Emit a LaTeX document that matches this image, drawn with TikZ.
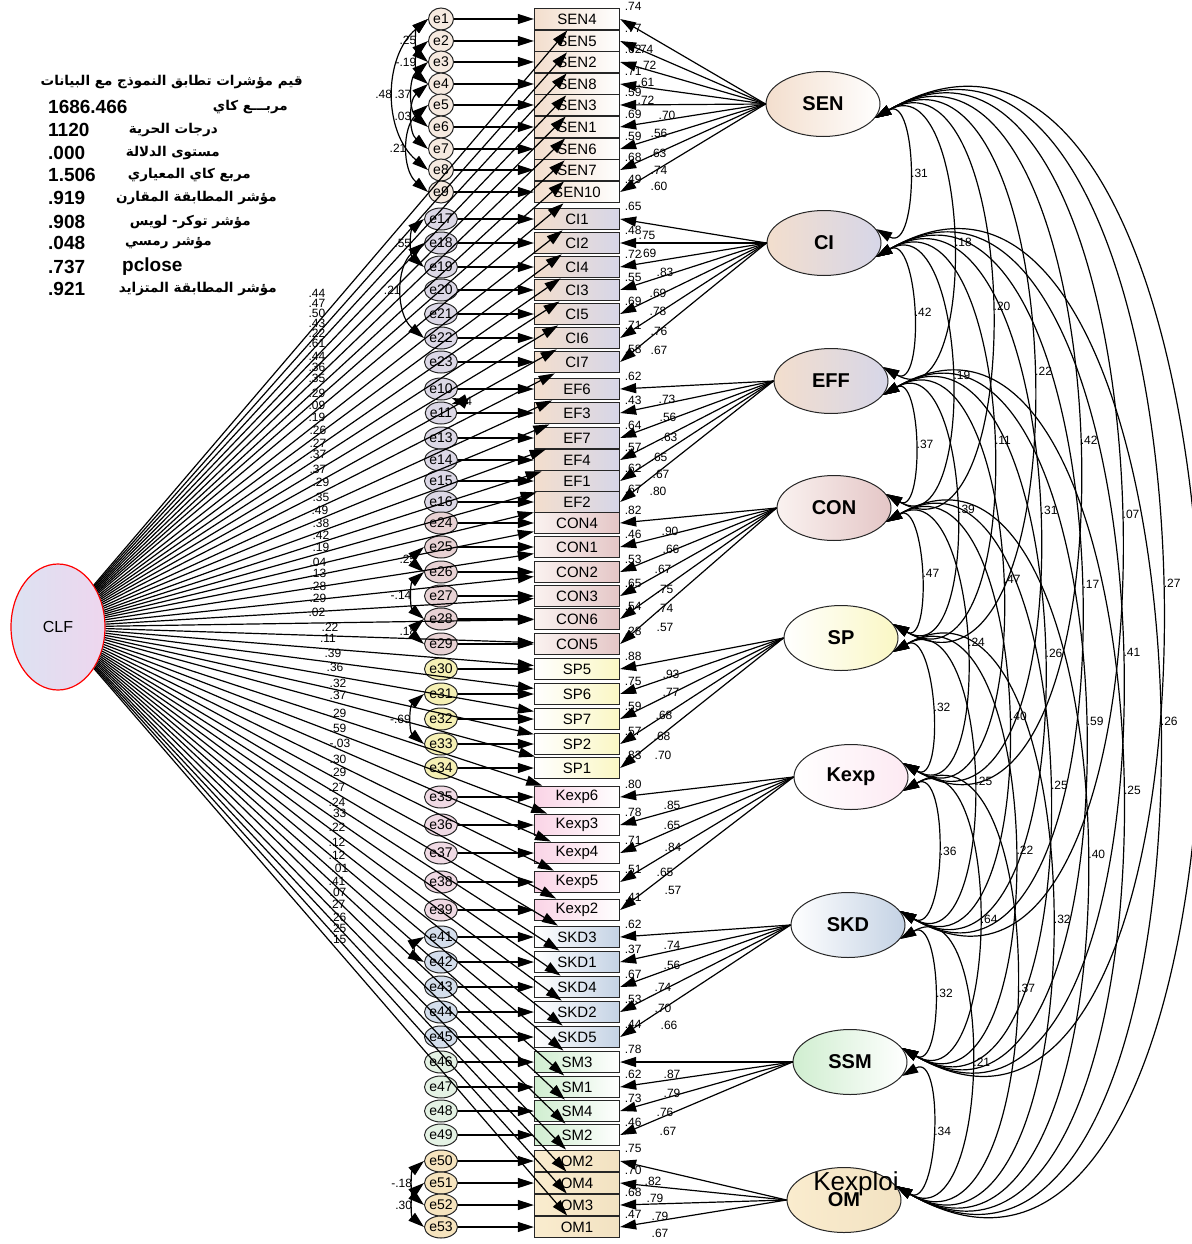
\documentclass[tikz,border=0pt]{standalone}
\usepackage{fontspec}
\setmainfont{Liberation Sans}
\newfontfamily\arabicfont[Script=Arabic]{DejaVu Sans}
\TeXXeTstate=1
\usetikzlibrary{arrows.meta,shapes.geometric,positioning,calc}

\definecolor{senpeach}{RGB}{243,222,205}
\definecolor{cilav}{RGB}{214,214,232}
\definecolor{conwhite}{RGB}{250,242,240}
\definecolor{conpink}{RGB}{228,198,198}
\definecolor{spyel}{RGB}{250,247,196}
\definecolor{kexpink}{RGB}{250,212,230}
\definecolor{skdblue}{RGB}{196,210,228}
\definecolor{smgreen}{RGB}{208,238,208}
\definecolor{omtanA}{RGB}{250,236,206}
\definecolor{omtanB}{RGB}{242,226,194}
\definecolor{clfA}{RGB}{220,226,242}
\definecolor{clfB}{RGB}{238,214,238}
\definecolor{esen}{RGB}{246,234,224}
\definecolor{eci}{RGB}{220,216,230}
\definecolor{econ}{RGB}{232,210,212}
\definecolor{esp}{RGB}{245,240,180}
\definecolor{ekex}{RGB}{240,218,228}
\definecolor{eskd}{RGB}{212,222,236}
\definecolor{esm}{RGB}{228,242,228}
\definecolor{eom}{RGB}{246,228,190}

% observed item / error / group / latent / R^2
\newcommand\obslist{SEN4/e1/19/sen/SEN/.74, SEN5/e2/41/sen/SEN/.77, SEN2/e3/62/sen/SEN/.62,
 SEN8/e4/84/sen/SEN/.71, SEN3/e5/105/sen/SEN/.59, SEN1/e6/127/sen/SEN/.69,
 SEN6/e7/149/sen/SEN/.59, SEN7/e8/170/sen/SEN/.68, SEN10/e9/192/sen/SEN/.49,
 CI1/e17/219/ci/CI/.65, CI2/e18/243/ci/CI/.48, CI4/e19/267/ci/CI/.72, CI3/e20/290/ci/CI/.55,
 CI5/e21/314/ci/CI/.69, CI6/e22/338/ci/CI/.71, CI7/e23/362/ci/CI/.58,
 EF6/e10/389/ci/EFF/.62, EF3/e11/413/ci/EFF/.43, EF7/e13/438/ci/EFF/.64, EF4/e14/460/ci/EFF/.57,
 EF1/e15/481/ci/EFF/.62, EF2/e16/502/ci/EFF/.67,
 CON4/e24/523/con/CON/.82, CON1/e25/547/con/CON/.46, CON2/e26/572/con/CON/.53,
 CON3/e27/596/con/CON/.65, CON6/e28/619/con/CON/.54, CON5/e29/644/con/CON/.28,
 SP5/e30/669/sp/SP/.88, SP6/e31/694/sp/SP/.75, SP7/e32/719/sp/SP/.59, SP2/e33/744/sp/SP/.57, SP1/e34/768/sp/SP/.83,
 Kexp6/e35/797/kex/Kexp/.80, Kexp3/e36/825/kex/Kexp/.78, Kexp4/e37/853/kex/Kexp/.71,
 Kexp5/e38/882/kex/Kexp/.51, Kexp2/e39/910/kex/Kexp/.41,
 SKD3/e41/937/skd/SKD/.62, SKD1/e42/962/skd/SKD/.37, SKD4/e43/987/skd/SKD/.67,
 SKD2/e44/1012/skd/SKD/.53, SKD5/e45/1037/skd/SKD/.44,
 SM3/e46/1062/sm/SSM/.78, SM1/e47/1087/sm/SSM/.62, SM4/e48/1111/sm/SSM/.73, SM2/e49/1135/sm/SSM/.46,
 OM2/e50/1161/om/OM/.75, OM4/e51/1183/om/OM/.70, OM3/e52/1205/om/OM/.68, OM1/e53/1227/om/OM/.47}

\begin{document}
\begin{tikzpicture}[x=1pt,y=-1pt,
  >={Triangle[length=16pt,width=10pt]},
  reg/.style={->, line width=1.2pt},
  cov/.style={<->, line width=1.2pt},
  obs/.style={draw=black!85, line width=1.3pt, minimum width=85pt, minimum height=21.5pt,
    inner sep=0pt, font=\fontsize{15}{15}\selectfont},
  box-sen/.style={left color=senpeach, right color=white},
  box-ci/.style={left color=senpeach, right color=cilav},
  box-con/.style={left color=conwhite, right color=conpink},
  box-sp/.style={left color=white, right color=spyel},
  box-kex/.style={left color=kexpink, right color=white},
  box-skd/.style={left color=white, right color=skdblue},
  box-sm/.style={left color=smgreen, right color=white},
  box-om/.style={left color=omtanA, right color=omtanB},
  err/.style={ellipse, draw=black!85, line width=1pt, minimum width=25pt, minimum height=22pt,
    inner sep=0pt, font=\fontsize{14}{14}\selectfont},
  err-sen/.style={fill=esen}, err-ci/.style={fill=eci}, err-con/.style={fill=econ},
  err-sp/.style={fill=esp}, err-kex/.style={fill=ekex}, err-skd/.style={fill=eskd},
  err-sm/.style={fill=esm}, err-om/.style={fill=eom},
  lat/.style={ellipse, draw=black!85, line width=1pt, minimum width=114pt, minimum height=65pt,
    font=\bfseries\fontsize{20}{20}\selectfont},
  num/.style={font=\fontsize{12}{12}\selectfont, inner sep=0.5pt},
  fitval/.style={anchor=west, inner sep=0pt, font=\bfseries\fontsize{19}{19}\selectfont},
  fitlbl/.style={anchor=east, inner sep=0pt, font=\arabicfont\bfseries\fontsize{13.5}{14}\selectfont}]
\useasboundingbox (0,0) rectangle (1191,1244);

% fit indices
\node[fitlbl] (title) at (303,82) {\beginR قيم مؤشرات تطابق النموذج مع البيانات\endR};
\foreach \v/\yy [count=\i] in {1686.466/107, 1120/130, .000/153, 1.506/175, .919/198,
  .908/222, .048/243, .737/267, .921/289}
  \node[fitval] (fv\i) at (48,\yy) {\v};
\node[fitlbl] (fl1) at (288,107) {\beginR مربـــع كاي\endR};
\node[fitlbl] (fl2) at (218,130) {\beginR درجات الحرية\endR};
\node[fitlbl] (fl3) at (220,153) {\beginR مستوى الدلالة\endR};
\node[fitlbl] (fl4) at (251,175) {\beginR مربع كاي المعياري\endR};
\node[fitlbl] (fl5) at (277,198) {\beginR مؤشر المطابقة المقارن\endR};
\node[fitlbl] (fl6) at (251,222) {\beginR مؤشر توكر- لويس\endR};
\node[fitlbl] (fl7) at (212,243) {\beginR مؤشر رمسي\endR};
\node[fitval] (fl8) at (122,267) {pclose};
\node[fitlbl] (fl9) at (277,289) {\beginR مؤشر المطابقة المتزايد\endR};

% common method factor
\node[ellipse, draw=red, line width=1.2pt, minimum width=94pt, minimum height=126pt,
  left color=clfA, right color=clfB, font=\fontsize{16}{16}\selectfont] (CLF) at (58,627) {CLF};

% latent factors
\node[lat, left color=senpeach, right color=white] (SEN) at (823,104) {SEN};
\node[lat, left color=senpeach, right color=cilav] (CI) at (824,243) {CI};
\node[lat, left color=senpeach, right color=cilav] (EFF) at (831,381) {EFF};
\node[lat, left color=conwhite, right color=conpink] (CON) at (834,508) {CON};
\node[lat, left color=white, right color=spyel] (SP) at (841,638) {SP};
\node[lat, left color=white, right color=kexpink!50] (Kexp) at (851,777) {Kexp};
\node[lat, left color=white, right color=skdblue] (SKD) at (848,925) {SKD};
\node[lat, left color=smgreen, right color=white] (SSM) at (850,1062) {SSM};
\node[lat, left color=omtanA, right color=omtanB] (OM) at (844,1200) {OM};
\node[font=\fontsize{26}{26}\selectfont, inner sep=0pt] (OMtxt) at (856,1184) {Kexploi};

% items and errors
\foreach \ob/\er/\yy/\gr/\lv/\rs in \obslist {
  \node[obs, box-\gr] (\ob) at (577,\yy) {\ob};
  \node[err, err-\gr] (\er) at (441,\yy) {\er};
}

% paths
\foreach \ob/\er/\yy/\gr/\lv/\rs in \obslist {
  \draw[reg] (CLF) -- (\ob);
  \draw[reg] (\er) -- (\ob.west);
  \draw[reg] (\lv.west) -- (\ob.east);
  \node[num] at ([xshift=13pt,yshift=1pt]\ob.north east) {\rs};
}

% CLF weights
\foreach \xx/\yy/\tx [count=\i] in {317/293/.44, 317/303/.47, 317/313/.50, 317/323/.43, 317/333/.22,
  317/343/.61, 317/356/.44, 317/367/.36, 317/378/.35, 317/393/.29, 317/405/.09, 317/417/.19,
  318/430/.26, 318/443/.27, 318/454/.37, 318/469/.37, 321/482/.29, 321/497/.35, 320/510/.49,
  321/523/.38, 321/535/.42, 321/547/.19, 318/562/.04, 318/573/.13, 318/586/.28, 318/598/.29,
  317/612/.02, 330/627/.22, 328/638/.11, 333/653/.39, 335/667/.36, 338/683/.32, 338/695/.37,
  338/713/.29, 338/728/.59, 340/743/-.03, 338/759/.30, 338/772/.29, 337/787/.27, 337/802/.24,
  338/813/.33, 337/827/.22, 337/842/.12, 337/855/.12, 340/868/.01, 337/881/.41, 338/892/.07,
  337/904/.27, 338/917/.26, 338/928/.25, 338/939/.15}
  \node[num] (cw\i) at (\xx,\yy) {\tx};

% factor loadings
\foreach \xx/\yy/\tx [count=\i] in {645/49/.74, 648/65/.72, 646/82/.61, 646/100/.72, 667/115/.70,
  659/133/.56, 658/153/.63, 659/170/.74, 659/186/.60,
  647/235/.75, 648/253/.69, 665/272/.83, 658/293/.69, 658/311/.78, 659/331/.76, 659/350/.67,
  667/399/.73, 668/417/.56, 669/437/.63, 659/457/.65, 661/474/.67, 658/491/.80,
  670/531/.90, 671/549/.66, 663/569/.67, 665/589/.75, 665/608/.74, 665/627/.57,
  671/674/.93, 671/692/.77, 664/715/.68, 662/736/.68, 663/755/.70,
  672/805/.85, 672/825/.65, 673/847/.84, 665/872/.65, 673/890/.57,
  672/945/.74, 672/965/.56, 663/987/.74, 663/1008/.70, 669/1025/.66,
  672/1074/.87, 672/1093/.79, 665/1112/.76, 668/1131/.67,
  653/1181/.82, 655/1198/.79, 660/1216/.79, 660/1233/.67}
  \node[num] (ld\i) at (\xx,\yy) {\tx};

% error covariances
\foreach \ea/\eb/\tx in {e1/e3/.25, e2/e4/-.19, e1/e8/.48, e3/e6/.37, e4/e7/.03, e5/e9/.21,
  e17/e19/.55, e18/e22/.21, e25/e26/.25, e26/e28/-.14, e28/e29/.18, e31/e33/-.69,
  e50/e52/-.18, e51/e53/.30}
  \draw[cov] (\ea.west) to[bend right=50] node[num, left=1pt] {\tx} (\eb.west);
\draw[cov] (e10.-40) to[bend left=70] node[num, right=1pt] {.14} (e11.40);
\draw[cov] (e41.west) to[bend right=60] (e42.west);

% factor covariances
\foreach \la/\lb/\tx in {SEN/CI/.31, SEN/EFF/.18, SEN/CON/.20, SEN/SP/.22, SEN/Kexp/.42,
  SEN/SKD/.07, SEN/SSM/.27, SEN/OM/{},
  CI/EFF/.42, CI/CON/.19, CI/SP/.11, CI/Kexp/.31, CI/SKD/.17, CI/SSM/.41, CI/OM/.26,
  EFF/CON/.37, EFF/SP/.39, EFF/Kexp/.47, EFF/SKD/.26, EFF/SSM/.59, EFF/OM/.25,
  CON/SP/.47, CON/Kexp/.24, CON/SKD/.40, CON/SSM/.25, CON/OM/.40,
  SP/Kexp/.32, SP/SKD/.25, SP/SSM/.22, SP/OM/.32,
  Kexp/SKD/.36, Kexp/SSM/.64, Kexp/OM/.37,
  SKD/SSM/.32, SKD/OM/.21,
  SSM/OM/.34}
  \draw[cov] let \p1=(\la.-15), \p2=(\lb.15), \n1={\y1-\y2} in
    (\p1) .. controls +({0.39*\n1},{0.225*\n1}) and +({0.39*\n1},{-0.225*\n1}) .. (\p2)
    node[num, pos=.5, anchor=west, xshift=2pt] {\tx};
\end{tikzpicture}
\end{document}
